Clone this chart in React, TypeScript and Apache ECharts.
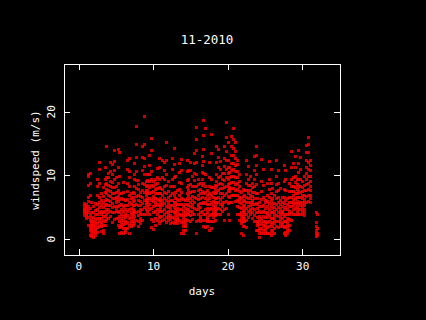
import React, { useEffect, useRef } from "react";
import * as echarts from "echarts";

const titleText = "11-2010";
const xName = "days";
const yName = "windspeed (m/s)";
const xTicks = [0, 10, 20, 30];
const yTicks = [0, 10, 20];

// wind speed readings (m/s) grouped by quarter-day columns, starting at day 0.75
const colStart = 0.75;
const colStep = 0.25;
const windCols: number[][] = [
  [3.7, 4.1, 4.4, 4.8, 5.2, 5.6, 4.6],
  [3.6, 3.9, 4.3, 4.7, 5.1, 5.4, 4.0, 4.9, 3.3],
  [2.1, 3.4, 4.2, 5.1, 5.9, 6.6, 8.4, 9.8, 10.1, 4.6],
  [0.6, 1.3, 2.2, 2.9, 3.7, 4.8, 6.9, 8.8, 10.3, 1.8],
  [0.4, 0.9, 1.4, 2.1, 2.7, 3.3, 4.1, 5.8, 1.7, 2.4],
  [0.3, 0.7, 1.2, 1.6, 2.3, 2.8, 3.4, 4.2, 5.1, 1.9],
  [0.5, 1.1, 1.7, 2.2, 2.6, 3.1, 3.8, 4.5, 5.6, 1.4],
  [1.1, 1.8, 2.4, 3.2, 3.9, 4.7, 5.5, 6.8, 8.3, 9.4],
  [1.9, 2.7, 3.3, 4.1, 4.9, 5.7, 6.6, 8.7, 10.9, 12.0],
  [1.2, 1.9, 2.6, 3.2, 3.8, 4.4, 5.2, 6.1, 7.2, 2.3],
  [1.4, 2.2, 2.9, 3.5, 4.2, 4.9, 5.8, 6.7, 8.1, 0.9],
  [2.1, 2.8, 3.6, 4.3, 5.2, 6.1, 7.3, 8.6, 9.4, 11.2],
  [3.1, 3.8, 4.6, 5.4, 6.2, 7.1, 7.8, 8.7, 9.6, 14.5],
  [3.2, 4.1, 4.7, 5.3, 6.1, 6.8, 7.6, 8.4, 9.7, 10.3],
  [3.6, 4.4, 5.2, 5.9, 6.7, 7.4, 8.2, 9.1, 10.6, 12.1],
  [2.6, 4.1, 4.9, 5.6, 6.4, 7.2, 8.1, 8.9, 10.2, 11.7],
  [3.1, 4.2, 5.1, 6.3, 7.2, 8.1, 9.3, 10.8, 12.2, 13.9],
  [3.2, 4.3, 5.1, 5.8, 6.6, 7.3, 8.2, 9.6, 4.8, 6.2],
  [2.1, 3.3, 4.2, 5.1, 5.9, 6.7, 7.6, 8.8, 11.2, 14.1],
  [0.9, 1.8, 2.7, 3.6, 4.4, 5.3, 6.2, 7.1, 9.8, 13.6],
  [1.1, 1.9, 2.6, 3.2, 3.9, 4.6, 5.4, 6.3, 7.2, 2.2],
  [0.9, 1.6, 2.3, 2.9, 3.6, 4.3, 5.1, 6.2, 7.3, 8.9],
  [1.0, 1.7, 2.4, 2.8, 3.4, 3.9, 4.7, 5.3, 6.1, 1.4],
  [1.6, 2.6, 3.7, 4.4, 5.3, 6.2, 7.4, 8.8, 10.9, 12.3],
  [0.9, 2.2, 3.3, 4.6, 5.7, 6.9, 8.2, 9.7, 10.6, 12.7],
  [1.9, 2.7, 3.4, 4.1, 4.8, 5.5, 6.3, 7.1, 2.4, 3.8],
  [2.1, 2.8, 3.3, 3.9, 4.6, 5.2, 5.9, 6.6, 7.3, 4.3],
  [2.4, 3.6, 4.4, 5.3, 6.1, 7.2, 8.3, 9.4, 10.2, 11.8],
  [2.9, 4.2, 5.4, 6.7, 7.9, 9.2, 10.6, 12.8, 14.9, 17.7],
  [1.9, 2.8, 3.7, 4.4, 5.2, 6.1, 6.9, 7.8, 8.6, 9.2],
  [2.4, 3.2, 3.9, 4.6, 5.3, 5.9, 6.7, 7.3, 2.9, 4.2],
  [2.9, 3.8, 4.7, 5.6, 6.6, 7.7, 8.8, 10.7, 12.8, 14.6],
  [3.8, 4.9, 6.1, 7.3, 8.6, 10.1, 11.4, 12.6, 14.8, 19.2],
  [3.9, 4.7, 5.4, 6.2, 6.9, 7.6, 8.3, 9.1, 5.8, 7.2],
  [4.4, 5.1, 5.7, 6.4, 7.1, 7.7, 8.4, 9.2, 10.1, 6.1],
  [3.8, 4.6, 5.5, 6.3, 7.2, 8.1, 9.1, 10.2, 11.6, 13.1],
  [1.8, 3.1, 4.8, 6.1, 7.3, 8.4, 9.3, 10.6, 13.9, 15.8],
  [1.5, 2.8, 4.2, 5.1, 5.9, 6.7, 7.4, 8.2, 9.1, 6.3],
  [2.1, 3.3, 4.3, 5.2, 5.8, 6.4, 7.1, 7.8, 8.6, 9.3],
  [2.9, 3.8, 4.6, 5.4, 6.2, 7.1, 7.9, 8.8, 9.6, 11.1],
  [2.4, 3.4, 4.3, 5.2, 6.1, 7.1, 8.1, 9.3, 11.2, 12.7],
  [2.8, 3.6, 4.3, 5.1, 5.8, 6.4, 7.2, 7.9, 4.7, 6.1],
  [2.9, 3.6, 4.4, 5.2, 6.1, 6.9, 7.8, 9.7, 12.4, 5.6],
  [3.1, 3.9, 4.7, 5.6, 6.4, 7.3, 8.2, 9.4, 10.8, 12.1],
  [2.6, 3.4, 4.2, 5.1, 6.1, 7.2, 8.4, 10.2, 12.3, 15.2],
  [2.9, 3.4, 3.9, 4.4, 4.9, 5.4, 5.9, 6.6, 7.4, 9.1],
  [2.4, 3.1, 3.7, 4.3, 4.8, 5.3, 6.1, 6.9, 8.3, 3.4],
  [2.6, 3.4, 4.3, 5.2, 6.1, 7.1, 8.2, 9.4, 10.9, 12.6],
  [2.4, 3.3, 4.1, 4.9, 5.8, 6.9, 8.3, 9.6, 11.7, 14.2],
  [2.6, 3.1, 3.7, 4.2, 4.7, 5.3, 5.8, 6.4, 7.3, 9.8],
  [2.4, 2.9, 3.4, 3.8, 4.3, 4.8, 5.4, 6.2, 7.6, 3.1],
  [2.9, 3.8, 4.6, 5.4, 6.1, 6.9, 7.8, 8.9, 10.4, 11.9],
  [0.9, 2.6, 3.7, 4.6, 5.5, 6.4, 7.3, 8.8, 10.7, 12.5],
  [0.9, 1.4, 1.9, 2.4, 2.9, 3.4, 3.9, 4.4, 5.1, 6.2],
  [1.3, 1.9, 2.6, 3.1, 3.7, 4.2, 4.8, 5.4, 6.1, 2.2],
  [2.9, 3.8, 4.7, 5.5, 6.3, 7.2, 8.1, 9.2, 10.6, 12.4],
  [3.8, 4.6, 5.3, 6.1, 6.8, 7.6, 8.4, 9.3, 10.8, 4.2],
  [2.8, 3.7, 4.4, 5.1, 5.7, 6.4, 7.3, 8.6, 10.7, 12.1],
  [3.1, 3.8, 4.3, 4.9, 5.5, 6.1, 6.7, 7.4, 8.2, 9.9],
  [3.9, 4.8, 5.7, 6.6, 7.4, 8.3, 9.2, 10.3, 11.8, 13.4],
  [0.9, 2.7, 4.6, 6.4, 8.3, 10.2, 12.1, 13.9, 15.6, 17.6],
  [2.9, 3.8, 4.6, 5.4, 6.2, 6.9, 7.7, 8.6, 9.3, 5.1],
  [2.8, 3.6, 4.2, 4.9, 5.6, 6.3, 7.1, 7.8, 8.7, 3.3],
  [2.9, 4.4, 5.6, 6.6, 7.5, 8.4, 9.3, 10.4, 11.6, 12.9],
  [1.9, 3.8, 5.7, 7.2, 8.7, 10.3, 12.2, 14.1, 16.2, 18.7],
  [1.8, 2.9, 3.8, 4.7, 5.6, 6.4, 7.3, 8.2, 10.1, 17.3],
  [1.9, 2.7, 3.4, 4.1, 4.8, 5.4, 6.1, 6.8, 7.6, 3.1],
  [1.4, 2.7, 3.7, 4.6, 5.4, 6.3, 7.2, 8.3, 9.6, 12.1],
  [1.6, 2.8, 3.9, 4.8, 5.8, 6.9, 8.1, 9.4, 13.4, 16.5],
  [2.7, 3.4, 4.1, 4.7, 5.3, 5.9, 6.6, 7.3, 8.1, 3.8],
  [2.9, 3.7, 4.4, 5.1, 5.8, 6.4, 7.1, 7.8, 8.4, 4.8],
  [3.8, 4.7, 5.6, 6.4, 7.3, 8.2, 9.1, 10.2, 12.1, 14.6],
  [3.9, 4.8, 5.7, 6.6, 7.6, 8.6, 9.7, 11.2, 12.8, 14.1],
  [3.8, 4.6, 5.4, 6.2, 7.1, 7.9, 8.8, 9.8, 10.9, 12.2],
  [4.3, 5.1, 5.8, 6.5, 7.2, 7.9, 8.6, 9.4, 10.3, 5.4],
  [2.9, 4.7, 5.8, 6.9, 8.1, 9.2, 10.3, 11.4, 12.7, 14.6],
  [4.8, 5.9, 7.1, 8.3, 9.6, 10.9, 12.3, 13.8, 15.9, 18.3],
  [3.8, 5.6, 6.7, 7.6, 8.5, 9.4, 10.3, 11.2, 12.4, 15.1],
  [2.9, 5.7, 6.6, 7.4, 8.1, 8.8, 9.6, 10.4, 11.3, 7.9],
  [5.8, 6.9, 7.9, 8.9, 9.8, 10.8, 11.9, 13.1, 14.6, 16.1],
  [6.8, 7.9, 8.9, 9.9, 10.9, 11.9, 13.1, 14.3, 15.6, 17.4],
  [5.9, 6.8, 7.7, 8.6, 9.6, 10.6, 11.6, 12.7, 13.8, 15.1],
  [3.9, 5.1, 6.1, 6.9, 7.8, 8.7, 9.6, 10.6, 11.7, 12.4],
  [2.9, 3.9, 4.9, 5.8, 6.6, 7.4, 8.3, 9.1, 10.1, 6.2],
  [0.9, 2.4, 3.3, 4.1, 4.8, 5.6, 6.4, 7.3, 3.7, 2.8],
  [0.5, 1.9, 2.8, 3.6, 4.3, 5.1, 5.9, 6.7, 7.8, 3.2],
  [1.9, 2.7, 3.3, 3.9, 4.6, 5.3, 6.1, 6.8, 7.6, 4.2],
  [1.8, 2.9, 3.9, 4.8, 5.7, 6.6, 7.6, 8.7, 10.2, 12.3],
  [3.4, 4.3, 5.1, 5.8, 6.4, 7.1, 7.7, 8.4, 9.3, 11.4],
  [3.8, 4.6, 5.2, 5.8, 6.3, 6.9, 7.6, 8.4, 9.8, 4.3],
  [3.3, 4.1, 4.8, 5.4, 6.1, 6.7, 7.3, 8.1, 8.8, 5.7],
  [2.8, 3.7, 4.6, 5.5, 6.4, 7.3, 8.3, 9.4, 10.8, 12.9],
  [1.4, 2.8, 4.2, 5.6, 7.1, 8.6, 10.1, 11.6, 13.1, 14.5],
  [1.3, 2.1, 2.8, 3.4, 4.1, 4.8, 5.5, 6.3, 7.1, 2.4],
  [0.2, 0.9, 1.6, 2.3, 2.9, 3.6, 4.3, 5.1, 5.8, 1.3],
  [0.9, 1.6, 2.4, 3.2, 4.1, 5.1, 6.2, 7.4, 9.1, 12.5],
  [0.8, 1.4, 2.1, 2.8, 3.6, 4.4, 5.3, 6.6, 8.4, 10.9],
  [0.8, 1.3, 1.8, 2.3, 2.8, 3.4, 4.1, 4.8, 5.7, 6.1],
  [0.9, 1.8, 2.6, 3.4, 4.2, 5.1, 5.9, 6.8, 8.7, 3.8],
  [0.9, 1.9, 2.8, 3.7, 4.6, 5.6, 6.6, 7.8, 9.4, 12.2],
  [0.5, 1.4, 2.3, 3.2, 4.1, 5.1, 6.1, 7.2, 8.8, 10.9],
  [0.9, 1.4, 1.9, 2.6, 3.3, 4.1, 4.8, 5.6, 6.3, 7.9],
  [0.9, 1.7, 2.4, 2.9, 3.4, 3.9, 4.4, 4.9, 5.6, 6.8],
  [1.9, 2.8, 3.7, 4.6, 5.5, 6.4, 7.4, 8.6, 9.8, 12.3],
  [1.8, 2.7, 3.5, 4.2, 4.9, 5.7, 6.6, 7.6, 8.8, 10.8],
  [1.9, 2.4, 2.9, 3.4, 3.8, 4.3, 4.8, 5.4, 6.1, 7.9],
  [1.9, 2.6, 3.2, 3.8, 4.4, 5.1, 5.8, 6.6, 4.1, 2.3],
  [0.9, 1.8, 2.7, 3.6, 4.6, 5.6, 6.6, 7.8, 9.1, 11.5],
  [0.5, 1.1, 1.9, 2.8, 3.8, 4.9, 6.1, 7.6, 9.3, 10.8],
  [0.9, 1.4, 1.8, 2.3, 2.8, 3.3, 3.9, 4.6, 5.4, 6.3],
  [1.4, 2.2, 3.1, 3.8, 4.4, 5.1, 5.8, 6.6, 7.4, 8.8],
  [2.9, 4.2, 5.1, 5.8, 6.6, 7.4, 8.3, 9.4, 11.2, 13.8],
  [3.8, 4.6, 5.2, 5.7, 6.2, 6.8, 7.4, 8.2, 9.6, 11.9],
  [3.9, 4.8, 5.6, 6.4, 7.2, 8.1, 8.9, 9.8, 11.3, 12.9],
  [3.8, 4.4, 4.9, 5.4, 5.9, 6.5, 7.1, 7.8, 8.6, 9.4],
  [3.8, 4.7, 5.6, 6.5, 7.4, 8.3, 9.3, 10.4, 11.9, 13.9],
  [3.9, 4.6, 5.2, 5.8, 6.5, 7.3, 8.2, 9.3, 10.9, 12.8],
  [3.8, 4.3, 4.8, 5.3, 5.8, 6.3, 6.8, 7.4, 8.1, 9.1],
  [3.7, 4.2, 4.7, 5.2, 5.7, 6.2, 6.8, 7.6, 8.4, 9.8],
  [5.8, 6.7, 7.6, 8.5, 9.4, 10.3, 11.3, 12.4, 13.6, 14.7],
  [5.9, 6.8, 7.8, 8.8, 9.8, 10.9, 12.1, 13.6, 14.8, 15.9],
  [5.7, 6.3, 6.9, 7.6, 8.3, 9.1, 9.9, 10.7, 11.6, 12.3],
];
const tailDays = [31.85, 32.0];
const tailWind: number[][] = [
  [0.4, 0.8, 1.3, 1.9, 2.6, 4.2],
  [0.5, 0.9, 1.6, 3.9],
];

const FONT = "DejaVu Sans Mono";

export default function App() {
  const ref = useRef<HTMLDivElement>(null);
  useEffect(() => {
    if (!ref.current) return;
    const chart = echarts.init(ref.current, null, { renderer: "svg" });
    const points: [number, number][] = [];
    windCols.forEach((col, i) => {
      const d = colStart + i * colStep;
      col.forEach((v) => points.push([d, v]));
    });
    tailWind.forEach((col, i) => {
      col.forEach((v) => points.push([tailDays[i], v]));
    });
    const tickCommon = { show: true, inside: true, length: 6, lineStyle: { color: "#fff", width: 1 } };
    const lineOff = { show: false, onZero: false };
    chart.setOption({
      animation: false,
      backgroundColor: "#000",
      title: {
        text: titleText,
        left: 202,
        top: 28,
        textAlign: "center",
        textStyle: { color: "#fff", fontFamily: FONT, fontSize: 12.5, fontWeight: "normal" },
      },
      grid: {
        left: 64,
        top: 64,
        width: 276,
        height: 191,
        show: true,
        borderColor: "#fff",
        borderWidth: 1,
        backgroundColor: "transparent",
        containLabel: false,
        outerBoundsMode: "none",
      },
      xAxis: [
        {
          type: "value",
          min: -2,
          max: 35,
          position: "bottom",
          axisLine: lineOff,
          splitLine: { show: false },
          axisTick: { ...tickCommon, customValues: xTicks },
          axisLabel: { customValues: xTicks, color: "#fff", fontFamily: FONT, fontSize: 11, margin: 6 },
        },
        {
          type: "value",
          min: -2,
          max: 35,
          position: "top",
          axisLine: lineOff,
          splitLine: { show: false },
          axisTick: { ...tickCommon, customValues: xTicks },
          axisLabel: { show: false },
        },
      ],
      yAxis: [
        {
          type: "value",
          min: -2.5,
          max: 27.5,
          position: "left",
          axisLine: lineOff,
          splitLine: { show: false },
          axisTick: { ...tickCommon, customValues: yTicks },
          axisLabel: {
            customValues: yTicks,
            color: "#fff",
            fontFamily: FONT,
            fontSize: 11,
            rotate: 90,
            margin: 7,
          },
        },
        {
          type: "value",
          min: -2.5,
          max: 27.5,
          position: "right",
          axisLine: lineOff,
          splitLine: { show: false },
          axisTick: { ...tickCommon, customValues: yTicks },
          axisLabel: { show: false },
        },
      ],
      graphic: [
        {
          type: "text",
          x: 202,
          y: 291,
          style: {
            text: xName,
            fill: "#fff",
            font: `11px "${FONT}"`,
            textAlign: "center",
            textVerticalAlign: "middle",
          },
        },
        {
          type: "text",
          x: 35,
          y: 160,
          rotation: Math.PI / 2,
          style: {
            text: yName,
            fill: "#fff",
            font: `11px "${FONT}"`,
            textAlign: "center",
            textVerticalAlign: "middle",
          },
        },
      ],
      series: [
        {
          type: "scatter",
          xAxisIndex: 0,
          yAxisIndex: 0,
          symbol: "rect",
          symbolSize: [3, 3],
          itemStyle: { color: "#ff0000" },
          data: points,
          silent: true,
        },
      ],
    });
    return () => chart.dispose();
  }, []);
  return (
    <>
      <style>{`#windchart svg path { shape-rendering: crispEdges; }`}</style>
      <div
        id="windchart"
        ref={ref}
        style={{ position: "fixed", left: 0, top: 0, width: 426, height: 320 }}
      />
    </>
  );
}
